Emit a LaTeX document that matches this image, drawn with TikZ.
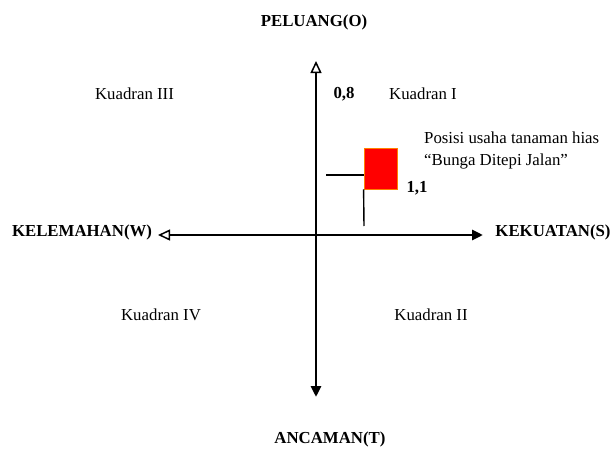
\documentclass[tikz,border=0pt]{standalone}
\usepackage{fontspec}
\setmainfont{Liberation Serif}
\usetikzlibrary{arrows.meta}
\begin{document}
\begin{tikzpicture}[x=1pt,y=-1pt,
  lbl/.style={inner sep=0pt, font=\fontsize{16.8}{22}\selectfont},
  boldlbl/.style={inner sep=0pt, font=\fontsize{16.8}{22}\selectfont\bfseries},
  axis/.style={line width=2.8pt},
  opentip/.tip={Triangle[open, length=12pt, width=11pt, line width=1.5pt]},
  filledtip/.tip={Triangle[length=11pt, width=10pt]}]
\useasboundingbox (0,0) rectangle (614,450);
% axis titles
\node[boldlbl] (peluang) at (314,22) {PELUANG(O)};
\node[boldlbl] (ancaman) at (330,439) {ANCAMAN(T)};
\node[boldlbl] (kelemahan) at (82,232) {KELEMAHAN(W)};
\node[boldlbl] (kekuatan) at (553,232) {KEKUATAN(S)};
% axes
\coordinate (top) at (316,61);
\coordinate (bottom) at (316,397);
\coordinate (left) at (158,235);
\coordinate (right) at (483,235);
\draw[axis, opentip-filledtip] (top) -- (bottom);
\draw[axis, opentip-filledtip] (left) -- (right);
% quadrants
\node[lbl] (k3) at (134.5,94) {Kuadran III};
\node[lbl] (k1) at (423,94) {Kuadran I};
\node[lbl] (k4) at (161,315) {Kuadran IV};
\node[lbl] (k2) at (431,315) {Kuadran II};
% position
\node[boldlbl] (yval) at (344,94) {0,8};
\node[boldlbl] (xval) at (417,188) {1,1};
\node[draw=orange, fill=red, line width=0.8pt, minimum width=33pt, minimum height=41pt, inner sep=0pt] (pos) at (380.5,168.5) {};
\coordinate (hend) at (326,175);
\coordinate (vend) at (364,226);
\draw[line width=1.4pt] (hend) -- (pos.west |- hend);
\draw[line width=1.4pt] (pos.south west) -- (vend);
\node[lbl, align=left, anchor=west] (posisi) at (424,150) {Posisi usaha tanaman hias\\``Bunga Ditepi Jalan''};
\end{tikzpicture}
\end{document}
